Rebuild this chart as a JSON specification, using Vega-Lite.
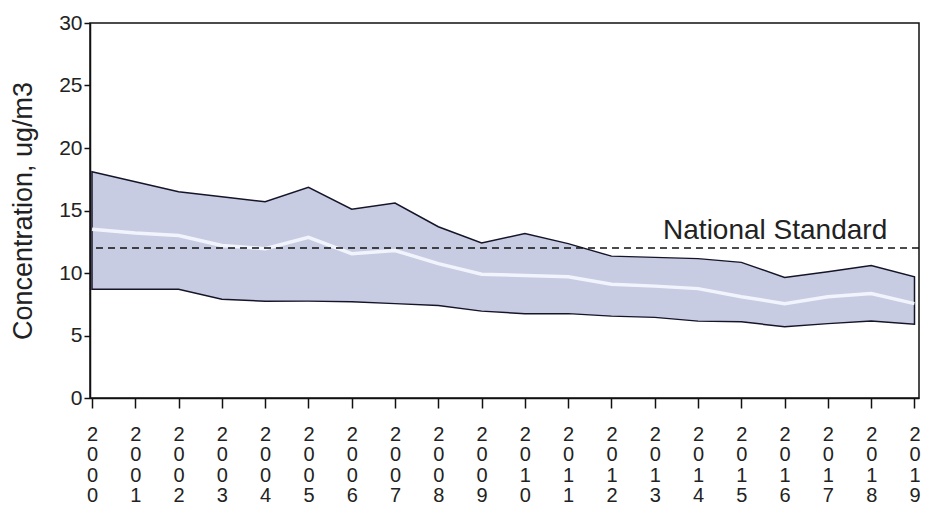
{
  "$schema": "https://vega.github.io/schema/vega-lite/v6.json",
  "width": 829,
  "height": 375,
  "autosize": "none",
  "padding": {"left": 90, "top": 23, "right": 20, "bottom": 114},
  "background": "white",
  "config": {
    "font": "Liberation Sans",
    "view": {"stroke": "#111111", "strokeWidth": 1.5}
  },
  "datasets": {
    "pm": [
      {"year": 2000, "upper": 18.1, "mean": 13.5, "lower": 8.7},
      {"year": 2001, "upper": 17.3, "mean": 13.2, "lower": 8.7},
      {"year": 2002, "upper": 16.5, "mean": 13.0, "lower": 8.7},
      {"year": 2003, "upper": 16.1, "mean": 12.2, "lower": 7.9},
      {"year": 2004, "upper": 15.7, "mean": 11.95, "lower": 7.75},
      {"year": 2005, "upper": 16.85, "mean": 12.85, "lower": 7.75},
      {"year": 2006, "upper": 15.1, "mean": 11.55, "lower": 7.7},
      {"year": 2007, "upper": 15.6, "mean": 11.8, "lower": 7.55},
      {"year": 2008, "upper": 13.7, "mean": 10.75, "lower": 7.4},
      {"year": 2009, "upper": 12.4, "mean": 9.9, "lower": 6.95},
      {"year": 2010, "upper": 13.15, "mean": 9.8, "lower": 6.75},
      {"year": 2011, "upper": 12.35, "mean": 9.7, "lower": 6.75},
      {"year": 2012, "upper": 11.35, "mean": 9.1, "lower": 6.55},
      {"year": 2013, "upper": 11.25, "mean": 8.95, "lower": 6.45},
      {"year": 2014, "upper": 11.15, "mean": 8.75, "lower": 6.15},
      {"year": 2015, "upper": 10.85, "mean": 8.1, "lower": 6.1},
      {"year": 2016, "upper": 9.65, "mean": 7.55, "lower": 5.7},
      {"year": 2017, "upper": 10.1, "mean": 8.1, "lower": 5.95},
      {"year": 2018, "upper": 10.6, "mean": 8.35, "lower": 6.15},
      {"year": 2019, "upper": 9.7, "mean": 7.55, "lower": 5.9}
    ],
    "standard": [
      {"year": 2018.37, "value": 12.0, "label": "National Standard"}
    ]
  },
  "layer": [
    {
      "data": {"name": "pm"},
      "mark": {"type": "area", "fill": "#c8cce2", "stroke": "#15152a", "strokeWidth": 1.5, "strokeJoin": "miter"},
      "encoding": {
        "x": {
          "field": "year",
          "type": "quantitative",
          "scale": {"domain": [1999.954, 2019.104], "nice": false, "zero": false},
          "axis": {
            "title": null,
            "values": [2000, 2001, 2002, 2003, 2004, 2005, 2006, 2007, 2008, 2009, 2010, 2011, 2012, 2013, 2014, 2015, 2016, 2017, 2018, 2019],
            "format": "d",
            "labelExpr": "split(datum.label, '')",
            "labelLineHeight": 20.5,
            "labelFontSize": 20,
            "labelColor": "#222222",
            "labelPadding": 16,
            "labelFlush": false,
            "labelOverlap": false,
            "tickSize": 10,
            "tickColor": "#111111",
            "tickWidth": 1.5,
            "domainColor": "#111111",
            "domainWidth": 1.5,
            "grid": false
          }
        },
        "y": {
          "field": "upper",
          "type": "quantitative",
          "scale": {"domain": [0, 30], "nice": false},
          "axis": {
            "title": "Concentration, ug/m3",
            "titleFontSize": 27,
            "titleFontWeight": "normal",
            "titleColor": "#222222",
            "titlePadding": 21,
            "values": [0, 5, 10, 15, 20, 25, 30],
            "labelFontSize": 21,
            "labelColor": "#222222",
            "labelPadding": 2,
            "tickSize": 6,
            "tickColor": "#111111",
            "tickWidth": 1.5,
            "domainColor": "#111111",
            "domainWidth": 1.5,
            "grid": false
          }
        },
        "y2": {"field": "lower"}
      }
    },
    {
      "data": {"name": "pm"},
      "mark": {"type": "line", "color": "#f5f8ff", "strokeWidth": 3.5, "opacity": 0.9},
      "encoding": {
        "x": {"field": "year", "type": "quantitative"},
        "y": {"field": "mean", "type": "quantitative"}
      }
    },
    {
      "data": {"name": "standard"},
      "mark": {"type": "rule", "color": "#111111", "strokeWidth": 1.5, "strokeDash": [7, 5]},
      "encoding": {
        "y": {"field": "value", "type": "quantitative"}
      }
    },
    {
      "data": {"name": "standard"},
      "mark": {"type": "text", "align": "right", "baseline": "alphabetic", "dy": -9, "fontSize": 28, "color": "#222222"},
      "encoding": {
        "x": {"field": "year", "type": "quantitative"},
        "y": {"field": "value", "type": "quantitative"},
        "text": {"field": "label"}
      }
    }
  ]
}
